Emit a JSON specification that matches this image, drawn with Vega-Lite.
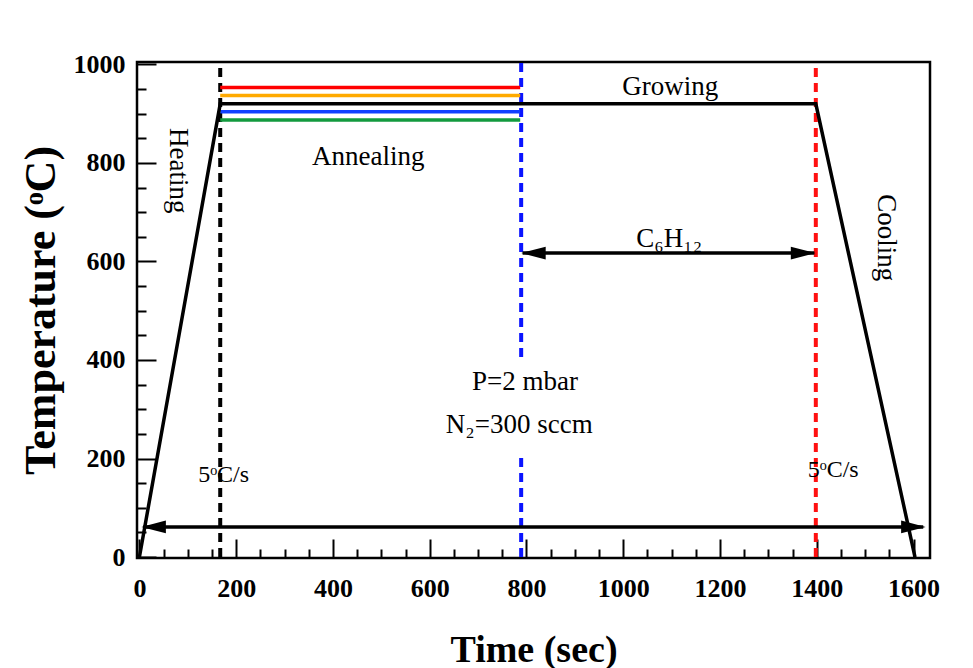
{
  "$schema": "https://vega.github.io/schema/vega-lite/v6.json",
  "width": 793,
  "height": 496,
  "autosize": "none",
  "padding": {"left": 137, "top": 62, "right": 43, "bottom": 110},
  "background": "white",
  "config": {
    "view": {"stroke": "black", "strokeWidth": 2.5},
    "axis": {
      "domain": false,
      "grid": false,
      "tickColor": "black",
      "tickWidth": 2,
      "labelFont": "Liberation Serif",
      "labelFontWeight": "bold",
      "labelFontSize": 26,
      "labelColor": "black",
      "labelFlush": false,
      "labelOverlap": false,
      "titleFont": "Liberation Serif",
      "titleFontWeight": "bold",
      "titleColor": "black"
    }
  },
  "datasets": {
    "profile": [
      {"t": 0, "T": 0},
      {"t": 167, "T": 920},
      {"t": 1398, "T": 920},
      {"t": 1603, "T": 0}
    ],
    "plateaus": [
      {"s": "s1", "t": 167, "T": 953},
      {"s": "s1", "t": 787, "T": 953},
      {"s": "s2", "t": 167, "T": 937},
      {"s": "s2", "t": 787, "T": 937},
      {"s": "s3", "t": 167, "T": 904},
      {"s": "s3", "t": 787, "T": 904},
      {"s": "s4", "t": 167, "T": 887},
      {"s": "s4", "t": 787, "T": 887}
    ],
    "vlines": [
      {"g": "heat", "t": 167, "T": 0, "T2": 1005},
      {"g": "anneal", "t": 789, "T": 406, "T2": 1005},
      {"g": "anneal", "t": 789, "T": 0, "T2": 211},
      {"g": "grow", "t": 1398, "T": 0, "T2": 1005}
    ],
    "shafts": [
      {"t": 8, "t2": 1620, "T": 61},
      {"t": 792, "t2": 1395, "T": 617}
    ],
    "tips": [
      {"dir": "L", "t": 4, "T": 61},
      {"dir": "R", "t": 1625, "T": 61},
      {"dir": "L", "t": 789, "T": 617},
      {"dir": "R", "t": 1397, "T": 617}
    ],
    "labels": [
      {"kind": "big", "label": "Annealing", "t": 473, "T": 796},
      {"kind": "big", "label": "Growing", "t": 1097, "T": 938},
      {"kind": "big", "label": "C₆H₁₂", "t": 1095, "T": 629},
      {"kind": "big", "label": "P=2 mbar", "t": 797, "T": 339},
      {"kind": "big", "label": "N₂=300 sccm", "t": 785, "T": 252},
      {"kind": "rot", "label": "Heating", "t": 80, "T": 784},
      {"kind": "rot", "label": "Cooling", "t": 1543, "T": 648},
      {"kind": "small", "label": "5ᵒC/s", "t": 174, "T": 152},
      {"kind": "small", "label": "5ᵒC/s", "t": 1434, "T": 162}
    ]
  },
  "encoding": {
    "x": {
      "field": "t",
      "type": "quantitative",
      "scale": {"domain": [-5, 1634], "nice": false, "zero": false},
      "axis": {
        "values": [0, 50, 100, 150, 200, 250, 300, 350, 400, 450, 500, 550, 600, 650, 700, 750, 800, 850, 900, 950, 1000, 1050, 1100, 1150, 1200, 1250, 1300, 1350, 1400, 1450, 1500, 1550, 1600],
        "format": "d",
        "labelExpr": "datum.value % 200 === 0 ? datum.label : ''",
        "tickSize": {"condition": {"test": "datum.value % 200 === 0", "value": -19}, "value": -9},
        "labelPadding": 36,
        "title": "Time (sec)",
        "titleFontSize": 38,
        "titlePadding": 20
      }
    },
    "y": {
      "field": "T",
      "type": "quantitative",
      "scale": {"domain": [-2, 1005], "nice": false, "zero": false},
      "axis": {
        "values": [0, 50, 100, 150, 200, 250, 300, 350, 400, 450, 500, 550, 600, 650, 700, 750, 800, 850, 900, 950, 1000],
        "format": "d",
        "labelExpr": "datum.value % 200 === 0 ? datum.label : ''",
        "tickSize": {"condition": {"test": "datum.value % 200 === 0", "value": -19}, "value": -9},
        "labelPadding": 31,
        "title": "Temperature (ᵒC)",
        "titleFontSize": 44,
        "titlePadding": 10
      }
    }
  },
  "resolve": {"scale": {"color": "independent"}},
  "layer": [
    {
      "data": {"name": "vlines"},
      "mark": {"type": "rule", "strokeWidth": 4, "strokeDash": [9, 6]},
      "encoding": {
        "y2": {"field": "T2"},
        "color": {"field": "g", "type": "nominal", "scale": {"domain": ["heat", "anneal", "grow"], "range": ["#000000", "#0a14ff", "#ff1010"]}, "legend": null}
      }
    },
    {
      "data": {"name": "plateaus"},
      "mark": {"type": "line", "strokeWidth": 3.5},
      "encoding": {
        "detail": {"field": "s"},
        "color": {"field": "s", "type": "nominal", "scale": {"domain": ["s1", "s2", "s3", "s4"], "range": ["#ff0000", "#ffaa00", "#1040ff", "#129a3e"]}, "legend": null}
      }
    },
    {
      "data": {"name": "profile"},
      "mark": {"type": "line", "color": "black", "strokeWidth": 3.5},
      "encoding": {}
    },
    {
      "data": {"name": "shafts"},
      "mark": {"type": "rule", "color": "black", "strokeWidth": 3.5},
      "encoding": {"x2": {"field": "t2"}}
    },
    {
      "data": {"name": "tips"},
      "mark": {"type": "point", "filled": true, "color": "black", "opacity": 1, "size": 600, "strokeWidth": 0},
      "encoding": {
        "shape": {"field": "dir", "type": "nominal", "scale": {"domain": ["L", "R"], "range": ["M0,0L2,-0.52L2,0.52Z", "M0,0L-2,-0.52L-2,0.52Z"]}, "legend": null}
      }
    },
    {
      "data": {"name": "labels"},
      "transform": [{"filter": "datum.kind === 'big'"}],
      "mark": {"type": "text", "font": "Liberation Serif", "fontSize": 27, "color": "black", "align": "center", "baseline": "alphabetic"},
      "encoding": {"text": {"field": "label"}}
    },
    {
      "data": {"name": "labels"},
      "transform": [{"filter": "datum.kind === 'rot'"}],
      "mark": {"type": "text", "font": "Liberation Serif", "fontSize": 27, "color": "black", "align": "center", "baseline": "middle", "angle": 90},
      "encoding": {"text": {"field": "label"}}
    },
    {
      "data": {"name": "labels"},
      "transform": [{"filter": "datum.kind === 'small'"}],
      "mark": {"type": "text", "font": "Liberation Serif", "fontSize": 24, "color": "black", "align": "center", "baseline": "alphabetic"},
      "encoding": {"text": {"field": "label"}}
    }
  ]
}
